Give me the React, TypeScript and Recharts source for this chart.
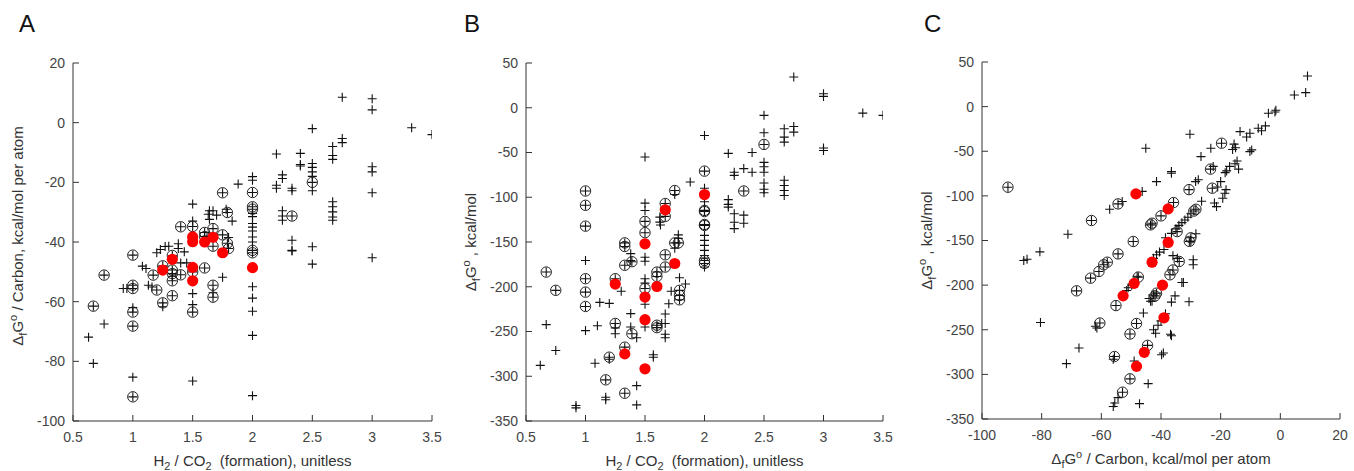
import { Scatter, ScatterChart, XAxis, YAxis } from 'recharts';

type Pt = [number, number];
type Seg = { t: string; v?: 'sub' | 'sup' };

const ratioTicks = [0.5, 1, 1.5, 2, 2.5, 3, 3.5];
const perCarbonTicks = [-100, -80, -60, -40, -20, 0, 20];
const dGTicks = [-350, -300, -250, -200, -150, -100, -50, 0, 50];

// panel A: H2/CO2 ratio vs dG per carbon
const aPlus: Pt[] = [
  [3.33, -1.7], [3.5, -4], [2.75, 8.5], [3, 8], [3, 4.3], [2.5, -2], [2.75, -5.3], [2.75, -6.7],
  [2.67, -8], [2.67, -11], [2.67, -12.3], [2.2, -10.5], [2.4, -10.3], [2.4, -14], [2.4, -14.5],
  [2.5, -13.7], [2.5, -15], [2.5, -16.5], [2.5, -18], [2.5, -22.8],
  [3, -14.8], [3, -16.5], [3, -23.5], [3, -45.3],
  [2.2, -21], [2.2, -22], [2.25, -17.5], [2.25, -18.7], [2.33, -22], [2.33, -22.8],
  [2.25, -29.5], [2.25, -31.3], [2.25, -32.7],
  [2.67, -26.5], [2.67, -28.2], [2.67, -29.9], [2.67, -31.6], [2.67, -32.7],
  [2.33, -39.4], [2.33, -42.8], [2.33, -43], [2.5, -41.6], [2.5, -47.4], [1.88, -20.6],
  [2, -18.1], [2, -19.3], [2, -30.4], [2, -31.5], [2, -33.8], [2, -35], [2, -36.3], [2, -38.3], [2, -40],
  [2, -55], [2, -58.8], [2, -63.2], [2, -71.3], [2, -91.5],
  [1.5, -27.3], [1.5, -33], [1.5, -57.3], [1.5, -61], [1.5, -86.6],
  [1, -62], [1, -85.3],
  [0.63, -71.9], [0.67, -80.7], [0.76, -67.5], [0.92, -55.6], [0.95, -55.6],
  [1.08, -48.1], [1.11, -48.9], [1.13, -54.5], [1.16, -55.1], [1.2, -43.6], [1.23, -42.5], [1.27, -41.5],
  [1.25, -61.7], [1.3, -41.4], [1.38, -40.6], [1.38, -42.2], [1.43, -43.3], [1.63, -30.7], [1.64, -32.4],
  [1.64, -29.5], [1.67, -29.5], [1.78, -29], [1.83, -33], [1.75, -51.8], [1.67, -57], [1.33, -51.5],
  [1.4, -47], [1.7, -31], [1.8, -38.5], [1.62, -38], [1.45, -47],
];
const aCircled: Pt[] = [
  [2.5, -20], [2.33, -31.3], [2, -23.4], [2, -28.2], [2, -29], [2, -42.8], [2, -43.6],
  [1.75, -23.5], [1.79, -30.1], [1.75, -37.6], [1.79, -40.4], [1.8, -42.2],
  [1.67, -41.4], [1.67, -35.5], [1.67, -54.5], [1.67, -58.5],
  [1.6, -36.8], [1.6, -38.2], [1.6, -48.7],
  [1.5, -34.8], [1.5, -50], [1.5, -63.5], [1.4, -34.9], [1.4, -51],
  [1.33, -44.5], [1.33, -49.4], [1.33, -50.6], [1.33, -53], [1.33, -58],
  [1.25, -48], [1.25, -60.4], [1.2, -56.1], [1.17, -51.1],
  [1, -44.4], [1, -54.5], [1, -55.6], [1, -63.5], [1, -68.2], [1, -91.9],
  [0.67, -61.5], [0.76, -51.1],
];
const aRed: Pt[] = [
  [1.25, -49.4], [1.33, -45.8], [1.5, -38.3], [1.5, -39.9], [1.5, -48.5], [1.5, -53],
  [1.6, -40], [1.67, -38.4], [1.75, -43.6], [2, -48.6],
];

// panel B: H2/CO2 ratio vs dG
const bPlus: Pt[] = [
  [2.75, 34.3], [3, 15.6], [3, 12.7], [3.33, -6], [3.5, -8.5], [2.5, -8.5],
  [2.5, -28], [2.5, -61], [2.5, -66], [2.5, -72], [2.5, -84], [2.5, -91], [2.5, -95],
  [2.67, -23.5], [2.67, -32.8], [2.67, -38.4], [2.75, -21], [2.75, -27.2],
  [2.67, -81], [2.67, -86.8], [2.67, -92.4], [2.67, -98],
  [3, -45], [3, -47.7], [2, -31], [2.2, -51], [2.4, -50], [2.33, -68], [2.4, -72], [2.25, -72], [2.25, -75.6],
  [2.2, -102.6], [2.2, -108], [2.2, -111], [2.25, -118.4], [2.25, -128], [2.25, -135], [2.33, -120], [2.33, -129],
  [1.88, -83],
  [2, -90], [2, -105], [2, -142.6], [2, -148.2], [2, -153.8], [2, -159.4], [2, -165], [2, -168], [2, -178],
  [1.75, -97], [1, -170.6], [1, -249],
  [1.5, -55], [1.5, -106.6], [1.5, -114.8], [1.5, -167], [1.5, -171.5], [1.5, -191], [1.5, -219.6], [1.5, -245], [1.5, -196],
  [1.625, -122.2], [1.625, -127.8], [1.63, -131],
  [1.67, -241], [1.67, -253], [1.67, -257], [1.67, -230.5], [1.64, -241],
  [1.78, -142], [1.78, -146], [1.75, -157], [1.84, -197], [1.79, -190], [1.7, -219], [1.72, -205],
  [1.38, -163], [1.38, -170.6], [1.3, -205], [1.12, -217.5], [1.2, -218.6], [1.1, -243.6],
  [1.25, -252.5], [1.25, -246], [1.38, -230], [1.38, -245], [1.43, -257], [1.2, -281], [1.08, -285.5],
  [1.17, -323.5], [1.17, -326.3], [1.43, -310.5], [1.43, -332], [0.92, -332.7], [0.92, -335.3],
  [0.62, -287.8], [0.75, -271.2], [0.67, -242.3], [1.57, -275.9], [1.57, -278.7],
];
const bCircled: Pt[] = [
  [2.5, -41], [2.33, -93], [2, -70.8], [2, -114.7], [2, -116], [2, -130.4], [2, -131.5], [2, -170.6], [2, -174],
  [1.75, -92.5], [1.67, -107], [1.67, -121.4], [1.67, -164.3], [1.67, -178], [1.6, -183.6], [1.6, -188.5],
  [1.6, -243], [1.6, -245.7], [1.75, -151], [1.78, -151], [1.79, -204], [1.79, -209.8], [1.79, -214.6],
  [1.5, -127], [1.5, -139.6], [1.5, -202],
  [1.33, -151], [1.33, -155], [1.33, -176], [1.39, -172], [1.25, -191], [1.25, -241], [1.39, -252.5],
  [1.33, -267.5], [1.2, -278.7], [1.17, -304], [1.33, -319],
  [1, -93], [1, -109], [1, -132.3], [1, -191], [1, -206], [1, -222],
  [0.67, -183.6], [0.75, -204],
];
const bRed: Pt[] = [
  [1.25, -197], [1.33, -275], [1.5, -152], [1.5, -211.5], [1.5, -236.8], [1.5, -291.7],
  [1.6, -199.7], [1.67, -114], [1.75, -174], [2, -97],
];

// panel C: dG per carbon vs dG
const cPlus: Pt[] = [
  [9.1, 34.3], [4.7, 13], [8.5, 15.7], [-4, -7.5], [-1.8, -6], [-1.5, -4],
  [-7.4, -24.3], [-6.3, -27], [-5, -21.6], [-13.5, -28], [-11.3, -34], [-10.2, -29.8], [-10.2, -50.4], [-9.6, -48.5],
  [-15, -46], [-15.5, -42], [-16, -48], [-14.5, -61], [-14, -70], [-15.2, -64], [-17, -67], [-18, -72], [-18.5, -74],
  [-23.3, -46.6], [-30.3, -31], [-45.1, -46.6], [-26.6, -56], [-22.5, -67], [-36.5, -72.8], [-36.5, -74.6], [-41.5, -84],
  [-28.4, -84], [-27.5, -82], [-26.4, -106], [-22.1, -108], [-21.4, -112], [-19.3, -102.6], [-18.6, -97], [-18.2, -93],
  [-20, -84], [-21, -90],
  [-46.3, -95], [-53, -106.3], [-57.2, -115], [-71.2, -143], [-80.6, -162.7], [-86, -172.4], [-84.9, -171],
  [-80.4, -241.8], [-71.7, -288], [-67.5, -270.5],
  [-33, -130], [-31, -124], [-30, -120], [-32, -127], [-34, -133], [-35, -137], [-36.5, -142], [-38.5, -147],
  [-39, -160], [-40.5, -163], [-41.5, -166], [-42.5, -170], [-36, -167], [-34.5, -170],
  [-43, -218], [-44, -215], [-42.5, -211],
  [-29.2, -171.6], [-29.2, -177.2], [-28.3, -142.5], [-30, -151],
  [-32.5, -197], [-33, -197], [-35.3, -212], [-36.5, -219], [-30.6, -218.6],
  [-39.2, -276], [-39.8, -278], [-36.5, -256.7], [-36.8, -255], [-41.8, -254], [-42.5, -250], [-41, -245],
  [-45.9, -231.3], [-43.5, -218], [-44.3, -310.4], [-47.2, -332.8], [-54.4, -326], [-56, -336], [-55.5, -332],
  [-61.5, -248], [-62, -246], [-56, -283], [-49, -285],
  [-48, -190], [-51, -203], [-51.5, -206], [-49.8, -200], [-40, -240], [-38.5, -232],
];
const cCircled: Pt[] = [
  [-91.3, -90.3], [-63.3, -127.6], [-54.4, -109], [-68.3, -206.4], [-63.6, -192.2], [-60.8, -184.7],
  [-59.2, -177.2], [-58, -174.3], [-54.4, -165], [-49.3, -151.1], [-43.5, -132.5], [-43, -130.6],
  [-40, -122.4], [-35.8, -107.5], [-34.6, -140],
  [-19.7, -41], [-23.4, -70], [-22.8, -91.4], [-30.6, -93], [-28.3, -115], [-29, -117], [-30.5, -151], [-30, -147],
  [-55.1, -222.9], [-47.6, -191], [-41.5, -209], [-42, -212], [-37, -188.4], [-36, -183], [-33.9, -173.5],
  [-60.5, -242.5], [-55.6, -280], [-50.4, -254.8], [-48.2, -243], [-44.5, -267.5], [-50.4, -305], [-52.9, -320],
];
const cRed: Pt[] = [
  [-48.4, -97.8], [-37.6, -114.6], [-37.6, -152.2], [-43, -174.3], [-49, -198], [-52.7, -212],
  [-39.5, -200], [-39, -236.6], [-45.6, -275.3], [-48.2, -291],
];

const ratioTitle: Seg[] = [
  { t: 'H' }, { t: '2', v: 'sub' }, { t: ' / CO' }, { t: '2', v: 'sub' }, { t: '\u00a0 (formation), unitless' },
];
const perCarbonTitle: Seg[] = [
  { t: '\u0394' }, { t: 'f', v: 'sub' }, { t: 'G' }, { t: 'o', v: 'sup' }, { t: ' / Carbon, kcal/mol per atom' },
];
const dGTitle: Seg[] = [
  { t: '\u0394' }, { t: 'f', v: 'sub' }, { t: 'G' }, { t: 'o', v: 'sup' }, { t: ' , kcal/mol' },
];

const FONT = "'Liberation Sans', Arial, sans-serif";
const AXIS = '#333';

const toRows = (pts: Pt[]) => pts.map(([x, y]) => ({ x, y }));

function segSpans(segs: Seg[]) {
  let shift = 0;
  return segs.map((s, i) => {
    const target = s.v === 'sub' ? 4 : s.v === 'sup' ? -6 : 0;
    const dy = target - shift;
    shift = target;
    return (
      <tspan key={i} dy={dy} fontSize={s.v ? 11 : 15}>
        {s.t}
      </tspan>
    );
  });
}

function AxisTitle(props: any) {
  const { viewBox, segs, vertical, shift = 0 } = props;
  const vb = viewBox || { x: 0, y: 0, width: 0, height: 0 };
  if (vertical) {
    const x = vb.x + vb.width - 50;
    const y = vb.y + vb.height / 2 + shift;
    return (
      <text x={x} y={y} transform={`rotate(-90 ${x} ${y})`} textAnchor="middle" fill="#333" fontFamily={FONT}>
        {segSpans(segs)}
      </text>
    );
  }
  const x = vb.x + vb.width / 2;
  const y = vb.y + 45;
  return (
    <text x={x} y={y} textAnchor="middle" fill="#333" fontFamily={FONT}>
      {segSpans(segs)}
    </text>
  );
}

function PlusMark(props: any) {
  const { cx, cy } = props;
  return <path d={`M${cx - 4.5},${cy}h9M${cx},${cy - 4.5}v9`} stroke="#111" strokeWidth={1.1} fill="none" />;
}

function CircledMark(props: any) {
  const { cx, cy } = props;
  return (
    <g>
      <circle cx={cx} cy={cy} r={5.2} fill="none" stroke="#222" strokeWidth={1} />
      <path d={`M${cx - 4.5},${cy}h9M${cx},${cy - 4.5}v9`} stroke="#111" strokeWidth={1.1} fill="none" />
    </g>
  );
}

function RedMark(props: any) {
  const { cx, cy } = props;
  return <circle cx={cx} cy={cy} r={5.6} fill="#ff0000" />;
}

interface PanelProps {
  left: number;
  width: number;
  margin: { top: number; right: number; bottom: number; left: number };
  xDomain: [number, number];
  xTicks: number[];
  yDomain: [number, number];
  yTicks: number[];
  plus: Pt[];
  circled: Pt[];
  red: Pt[];
  xTitle: Seg[];
  yTitle: Seg[];
  yTitleShift?: number;
}

function Panel(p: PanelProps) {
  const tickStyle = { fontSize: 14, fill: '#444', fontFamily: FONT };
  return (
    <div style={{ position: 'absolute', left: p.left, top: 0 }}>
      <ScatterChart width={p.width} height={471} margin={p.margin}>
        <XAxis
          xAxisId="b"
          type="number"
          dataKey="x"
          domain={p.xDomain}
          ticks={p.xTicks}
          allowDataOverflow
          height={30}
          tickSize={-6}
          tickMargin={17}
          stroke={AXIS}
          tick={tickStyle}
          interval={0}
          label={<AxisTitle segs={p.xTitle} />}
        />
        <XAxis
          xAxisId="t"
          orientation="top"
          type="number"
          domain={p.xDomain}
          ticks={p.xTicks}
          allowDataOverflow
          height={0}
          tickSize={-6}
          stroke={AXIS}
          tick={false}
          interval={0}
        />
        <YAxis
          yAxisId="l"
          type="number"
          dataKey="y"
          domain={p.yDomain}
          ticks={p.yTicks}
          allowDataOverflow
          width={60}
          tickSize={-6}
          tickMargin={14}
          stroke={AXIS}
          tick={tickStyle}
          interval={0}
          label={<AxisTitle segs={p.yTitle} vertical shift={p.yTitleShift ?? 0} />}
        />
        <YAxis
          yAxisId="r"
          orientation="right"
          type="number"
          domain={p.yDomain}
          ticks={p.yTicks}
          allowDataOverflow
          width={0}
          tickSize={-6}
          stroke={AXIS}
          tick={false}
          interval={0}
        />
        <Scatter xAxisId="b" yAxisId="l" data={toRows(p.plus)} shape={PlusMark} isAnimationActive={false} />
        <Scatter xAxisId="b" yAxisId="l" data={toRows(p.circled)} shape={CircledMark} isAnimationActive={false} />
        <Scatter xAxisId="b" yAxisId="l" data={toRows(p.red)} shape={RedMark} isAnimationActive={false} />
      </ScatterChart>
    </div>
  );
}

const letterStyle = (left: number) => ({
  position: 'absolute' as const,
  left,
  top: 12,
  fontSize: 24,
  lineHeight: '24px',
  fontFamily: FONT,
  color: '#111',
});

export default function App() {
  return (
    <div style={{ position: 'absolute', left: 0, top: 0, width: 1354, height: 471, background: '#fff', fontFamily: FONT }}>
      <Panel
        left={0}
        width={450}
        margin={{ top: 63, right: 18, bottom: 20, left: 13 }}
        xDomain={[0.5, 3.5]}
        xTicks={ratioTicks}
        yDomain={[-100, 20]}
        yTicks={perCarbonTicks}
        plus={aPlus}
        circled={aCircled}
        red={aRed}
        xTitle={ratioTitle}
        yTitle={perCarbonTitle}
        yTitleShift={-6}
      />
      <Panel
        left={450}
        width={450}
        margin={{ top: 63, right: 17, bottom: 20, left: 16 }}
        xDomain={[0.5, 3.5]}
        xTicks={ratioTicks}
        yDomain={[-350, 50]}
        yTicks={dGTicks}
        plus={bPlus}
        circled={bCircled}
        red={bRed}
        xTitle={ratioTitle}
        yTitle={dGTitle}
      />
      <Panel
        left={900}
        width={454}
        margin={{ top: 62, right: 14, bottom: 22, left: 22 }}
        xDomain={[-100, 20]}
        xTicks={perCarbonTicks}
        yDomain={[-350, 50]}
        yTicks={dGTicks}
        plus={cPlus}
        circled={cCircled}
        red={cRed}
        xTitle={perCarbonTitle}
        yTitle={dGTitle}
      />
      <div style={letterStyle(19)}>A</div>
      <div style={letterStyle(464)}>B</div>
      <div style={letterStyle(924)}>C</div>
    </div>
  );
}
